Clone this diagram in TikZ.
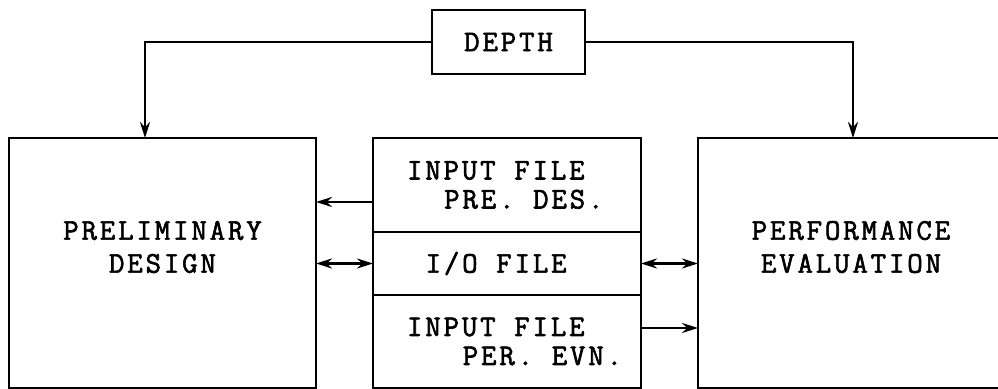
\documentclass[tikz,border=0pt]{standalone}
\usepackage{fontspec}
\setmonofont{Latin Modern Mono}[LetterSpace=9.5, FakeBold=2]
\usepackage{tikz}
\usetikzlibrary{calc, positioning, arrows.meta}
\newcommand{\tsp}{\hspace*{9.3pt}}
\tikzstyle{block} = [draw=black, line width=1.3pt, inner sep=0pt, outer sep=0pt, font=\ttfamily\fontsize{15}{14.5}\selectfont]
\tikzstyle{bigbox} = [block, minimum width=153.5pt, minimum height=125pt]
\tikzstyle{filebox} = [block, minimum width=134pt, text width=100pt, align=left]
\tikzstyle{boxtext} = [align=center, inner sep=0pt, font=\ttfamily\fontsize{15}{16.5}\selectfont]
\tikzstyle{arrow} = [line width=1.2pt, ->, >={Stealth[length=8pt, width=5pt]}]

\begin{document}
\begin{tikzpicture}[node distance = 0mm, auto, x=0.5pt, y=-0.5pt]
	\clip (0,0) rectangle (998,389);
	\node (Preliminary) [bigbox] at (162.5,263) {};
	\node (PreliminaryText) [boxtext] at ([yshift=8pt]Preliminary.center) {PRELIMINARY\\DESIGN};
	\node (InputPre) [filebox, minimum height=47pt] at (507,185) {\mbox{INPUT\tsp FILE}\\\mbox{\tsp\tsp PRE.\tsp DES.}};
	\node (IOFile) [filebox, minimum height=31.5pt, below=of InputPre] {\mbox{\tsp I/O\tsp FILE}};
	\node (InputPer) [filebox, minimum height=46.5pt, below=of IOFile] {\mbox{INPUT\tsp FILE}\\\mbox{\tsp\tsp\tsp PER.\tsp EVN.}};
	\node (Performance) [bigbox, minimum width=153pt] at (851,263) {};
	\node (PerformanceText) [boxtext] at ([yshift=8pt]Performance.center) {PERFORMANCE\\EVALUATION};
	\node (Depth) [block, minimum width=76.5pt, minimum height=32pt] at (508.5,42) {DEPTH};
	% depth feeds both programs
	\draw[arrow] (Depth.west) -| ([xshift=-8.75pt]Preliminary.north);
	\draw[arrow] (Depth.east) -| ([xshift=1pt]Performance.north);
	\draw[arrow] ([yshift=-8.5pt]InputPre.west) -- ([yshift=-8.5pt]InputPre.west -| Preliminary.east);
	\draw[arrow, <->] (IOFile.west) -- (IOFile.west -| Preliminary.east);
	\draw[arrow, <->] (IOFile.east) -- (IOFile.east -| Performance.west);
	\draw[arrow] ([yshift=6.75pt]InputPer.east) -- ([yshift=6.75pt]InputPer.east -| Performance.west);
\end{tikzpicture}
\end{document}
